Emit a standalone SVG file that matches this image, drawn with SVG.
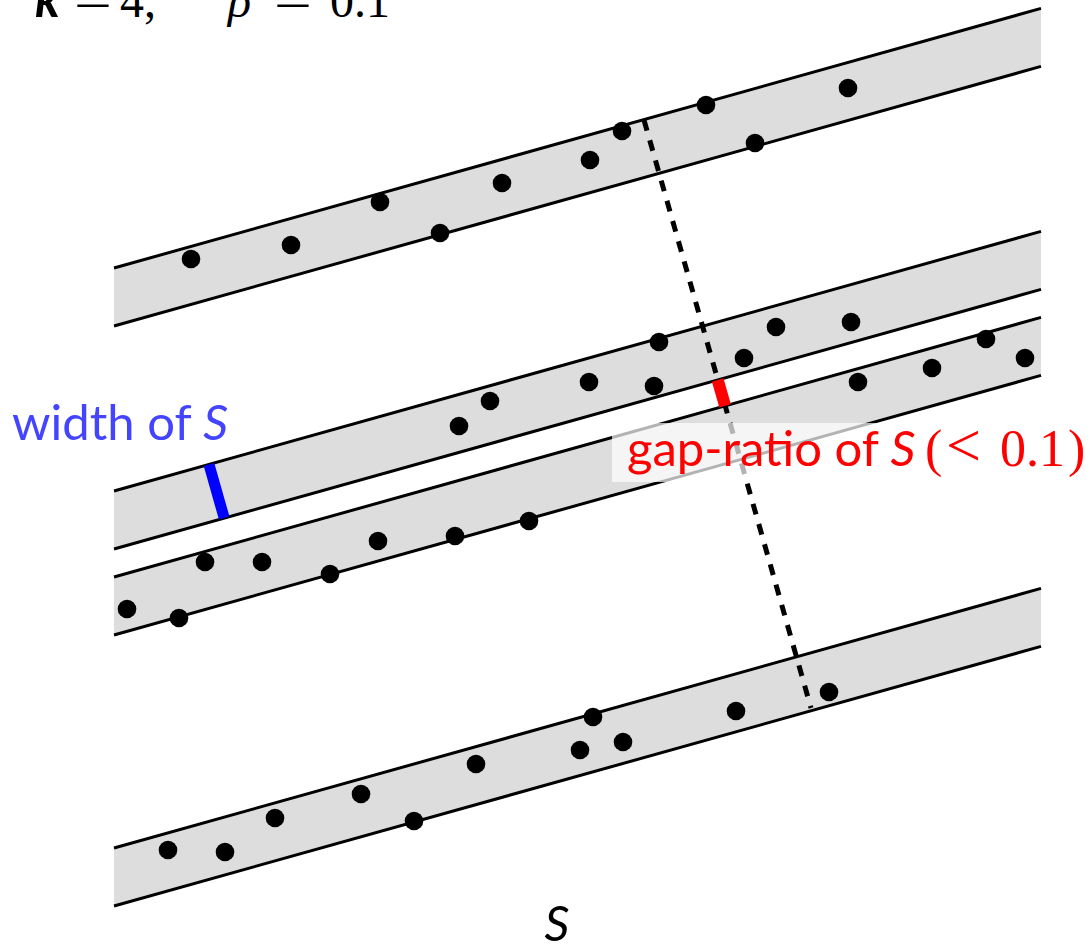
<svg xmlns="http://www.w3.org/2000/svg" width="1092" height="946" viewBox="0 0 1092 946">
<style>
.band{fill:#dddddd;stroke:none}
.edge{stroke:#000;stroke-width:3;fill:none}
.dot{fill:#000}
.sans{font-family:Lato,"Open Sans","Liberation Sans",sans-serif}
.serif{font-family:"Liberation Serif","DejaVu Serif",serif}
</style>
<rect width="1092" height="946" fill="#fff"/>
<g id="band1">
<polygon class="band" points="114,268 1041,8.4 1041,66.4 114,326"/>
<line class="edge" x1="114" y1="268" x2="1041" y2="8.4"/>
<line class="edge" x1="114" y1="326" x2="1041" y2="66.4"/>
<g class="dot">
<circle cx="191" cy="259" r="9.3"/><circle cx="291" cy="245" r="9.3"/><circle cx="380" cy="202" r="9.3"/><circle cx="440" cy="233" r="9.3"/><circle cx="502" cy="183" r="9.3"/><circle cx="590" cy="160" r="9.3"/><circle cx="622" cy="131" r="9.3"/><circle cx="706" cy="105" r="9.3"/><circle cx="755" cy="143" r="9.3"/><circle cx="848" cy="88" r="9.3"/>
</g>
</g>
<g id="band2">
<polygon class="band" points="114,491 1041,231.4 1041,289.4 114,549"/>
<line class="edge" x1="114" y1="491" x2="1041" y2="231.4"/>
<line class="edge" x1="114" y1="549" x2="1041" y2="289.4"/>
<g class="dot">
<circle cx="459" cy="426" r="9.3"/><circle cx="490" cy="401" r="9.3"/><circle cx="589" cy="382" r="9.3"/><circle cx="659" cy="342" r="9.3"/><circle cx="654" cy="386" r="9.3"/><circle cx="744" cy="358" r="9.3"/><circle cx="776" cy="327" r="9.3"/><circle cx="851" cy="322" r="9.3"/>
</g>
</g>
<g id="band3">
<polygon class="band" points="114,577 1041,317.4 1041,375.4 114,635"/>
<line class="edge" x1="114" y1="577" x2="1041" y2="317.4"/>
<line class="edge" x1="114" y1="635" x2="1041" y2="375.4"/>
<g class="dot">
<circle cx="127" cy="609" r="9.3"/><circle cx="179" cy="618" r="9.3"/><circle cx="205" cy="562" r="9.3"/><circle cx="262" cy="562" r="9.3"/><circle cx="330" cy="574" r="9.3"/><circle cx="378" cy="541" r="9.3"/><circle cx="455" cy="536" r="9.3"/><circle cx="529" cy="521" r="9.3"/><circle cx="858" cy="382" r="9.3"/><circle cx="932" cy="368" r="9.3"/><circle cx="986" cy="339" r="9.3"/><circle cx="1025" cy="358" r="9.3"/>
</g>
</g>
<g id="band4">
<polygon class="band" points="114,848 1041,588.4 1041,646.4 114,906"/>
<line class="edge" x1="114" y1="848" x2="1041" y2="588.4"/>
<line class="edge" x1="114" y1="906" x2="1041" y2="646.4"/>
<g class="dot">
<circle cx="168" cy="850" r="9.3"/><circle cx="225" cy="852" r="9.3"/><circle cx="275" cy="818" r="9.3"/><circle cx="361" cy="794" r="9.3"/><circle cx="414" cy="821" r="9.3"/><circle cx="476" cy="764" r="9.3"/><circle cx="580" cy="750" r="9.3"/><circle cx="593" cy="717" r="9.3"/><circle cx="623" cy="742" r="9.3"/><circle cx="736" cy="711" r="9.3"/><circle cx="829" cy="692" r="9.3"/>
</g>
</g>
<g id="connectors">
<line x1="644" y1="120" x2="811" y2="708" stroke="#000" stroke-width="5" stroke-dasharray="11 10"/>
<line id="gap" x1="717.7" y1="380" x2="725.1" y2="405.9" stroke="#ff0000" stroke-width="12"/>
<line id="width" x1="209" y1="464.4" x2="224.2" y2="518.1" stroke="#0000ff" stroke-width="11"/>
</g>
<g id="label-width">
<text class="sans" x="12" y="440" font-size="49" fill="#4444ff">width of <tspan font-style="italic">S</tspan></text>
</g>
<g id="label-gap">
<rect x="612" y="423" width="476" height="59" fill="#ffffff" fill-opacity="0.7"/>
<text class="sans" x="627" y="466" font-size="49" fill="#ff0000">gap-ratio of <tspan font-style="italic">S</tspan></text>
<text class="serif" y="466" font-size="52" fill="#ff0000"><tspan x="925">(</tspan><tspan x="946" font-size="62">&lt;</tspan><tspan x="1000">0.1</tspan><tspan x="1068">)</tspan></text>
</g>
<g id="label-S">
<text class="sans" x="557" y="941" font-size="49" font-style="italic" text-anchor="middle" fill="#000">S</text>
</g>
<g id="title">
<text class="sans" x="35" y="17" font-size="50" font-style="italic" font-weight="bold" fill="#000">k</text>
<text class="serif" font-size="48" fill="#000" transform="translate(74,17) scale(1.4,1)">=</text>
<text class="serif" x="120" y="17" font-size="48" fill="#000">4,</text>
<text class="serif" x="228" y="17" font-size="48" font-style="italic" fill="#000">ρ</text>
<text class="serif" font-size="48" fill="#000" transform="translate(274,17) scale(1.4,1)">=</text>
<text class="serif" x="330" y="17" font-size="48" fill="#000">0.1</text>
</g>
</svg>
